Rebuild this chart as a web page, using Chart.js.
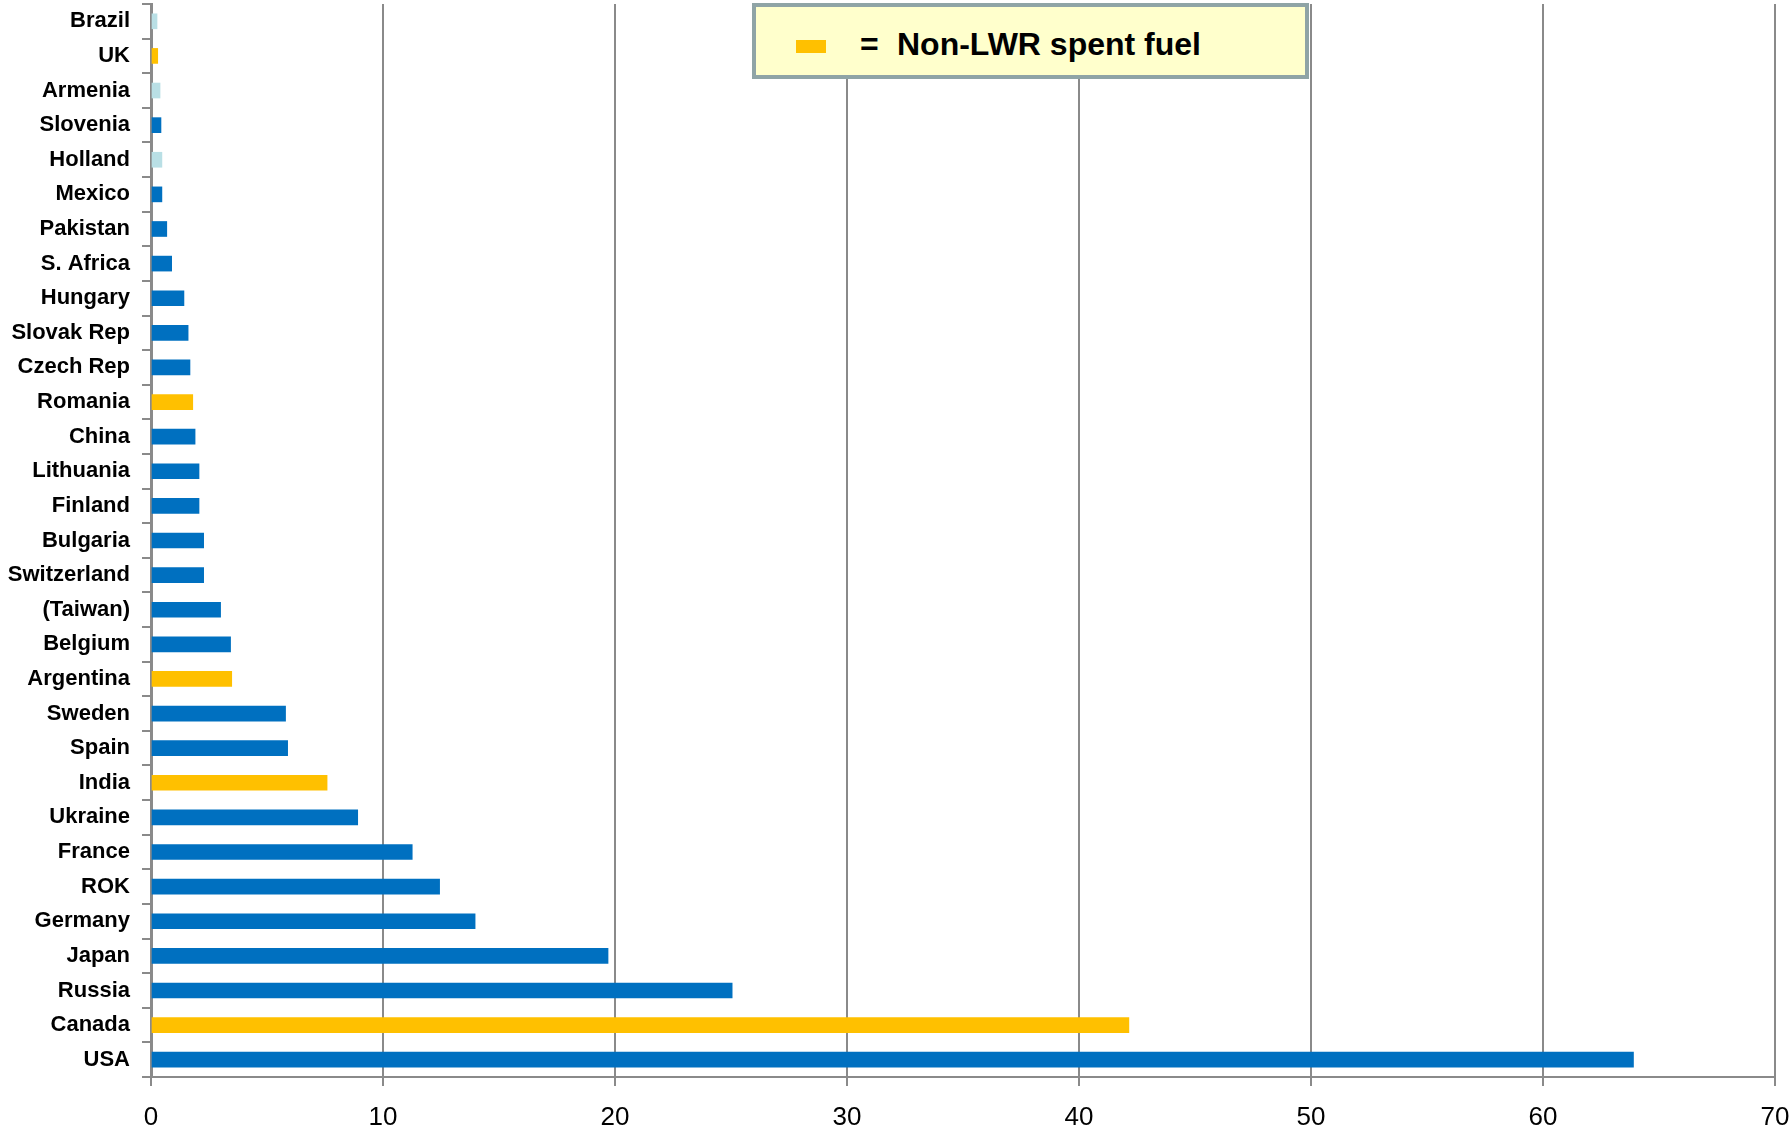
<!DOCTYPE html>
<html>
<head>
<meta charset="utf-8">
<script src="https://cdn.jsdelivr.net/npm/chart.js@4.4.0/dist/chart.umd.min.js"></script>
<style>
    html, body { margin: 0; padding: 0; background: #ffffff; }
    #wrap { position: relative; width: 1791px; height: 1134px; }
    #legendBox {
        position: absolute; left: 752px; top: 3px; width: 549px; height: 68px;
        background: #ffffcc; border: 4px solid #8fa4a6;
        font-family: "Liberation Sans", Arial, sans-serif; font-weight: bold; font-size: 32px; color: #000;
    }
    #legendBox .swatch { position: absolute; left: 40px; top: 33px; width: 30px; height: 13px; background: #ffc000; }
    #legendBox .eq { position: absolute; left: 104px; top: 19px; }
    #legendBox .txt { position: absolute; left: 141px; top: 19px; }
</style>
</head>
<body>
<div id="wrap">
    <canvas id="grafico" width="1791" height="1134"></canvas>
    <div id="legendBox">
        <span class="swatch"></span>
        <span class="eq">=</span>
        <span class="txt">Non-LWR spent fuel</span>
    </div>
</div>
<script>
const paises = ["Brazil","UK","Armenia","Slovenia","Holland","Mexico","Pakistan","S. Africa","Hungary","Slovak Rep",
    "Czech Rep","Romania","China","Lithuania","Finland","Bulgaria","Switzerland","(Taiwan)","Belgium","Argentina",
    "Sweden","Spain","India","Ukraine","France","ROK","Germany","Japan","Russia","Canada","USA"];

const combustibleGastado = [0.26, 0.29, 0.39, 0.43, 0.47, 0.47, 0.68, 0.89, 1.42, 1.6,
    1.68, 1.8, 1.9, 2.07, 2.07, 2.27, 2.27, 3.0, 3.43, 3.48,
    5.8, 5.89, 7.59, 8.91, 11.26, 12.44, 13.97, 19.7, 25.05, 42.15, 63.9];

// tipo: 'lwr', 'noLwr' (amarillo), 'otro' (celeste)
const tipoCombustible = ["otro","noLwr","otro","lwr","otro","lwr","lwr","lwr","lwr","lwr",
    "lwr","noLwr","lwr","lwr","lwr","lwr","lwr","lwr","lwr","noLwr",
    "lwr","lwr","noLwr","lwr","lwr","lwr","lwr","lwr","lwr","noLwr","lwr"];

const ticksX = [0, 10, 20, 30, 40, 50, 60, 70];

const colores = { lwr: '#0070c0', noLwr: '#ffc000', otro: '#b9dfe5' };
const gris = '#8a8a8a';
const fuente = '"Liberation Sans", Arial, sans-serif';

new Chart(document.getElementById('grafico'), {
    type: 'bar',
    data: {
        labels: paises,
        datasets: [{
            label: 'Spent fuel',
            data: combustibleGastado,
            backgroundColor: tipoCombustible.map(t => colores[t]),
            barThickness: 15
        }]
    },
    options: {
        indexAxis: 'y',
        responsive: false,
        animation: false,
        layout: { padding: { top: 4, right: 16, left: 0, bottom: 0 } },
        plugins: {
            legend: { display: false },
            tooltip: { enabled: false }
        },
        scales: {
            x: {
                min: ticksX[0],
                max: ticksX[ticksX.length - 1],
                afterBuildTicks: s => { s.ticks = ticksX.map(v => ({ value: v })); },
                afterFit: s => { s.height = 57; s.paddingLeft = 0; s.paddingRight = 0; },
                grid: { color: gris, lineWidth: 2, tickLength: 9, drawTicks: true },
                border: { color: gris, width: 2 },
                ticks: { color: '#000', font: { family: fuente, size: 26 }, padding: 16, maxRotation: 0 }
            },
            y: {
                afterFit: s => { s.width = 151; s.paddingTop = 0; s.paddingBottom = 0; },
                grid: { drawOnChartArea: false, color: gris, lineWidth: 2, tickLength: 9, offset: true },
                border: { color: gris, width: 3 },
                ticks: { color: '#000', font: { family: fuente, size: 22, weight: 'bold' }, padding: 12, autoSkip: false }
            }
        }
    }
});
</script>
</body>
</html>
